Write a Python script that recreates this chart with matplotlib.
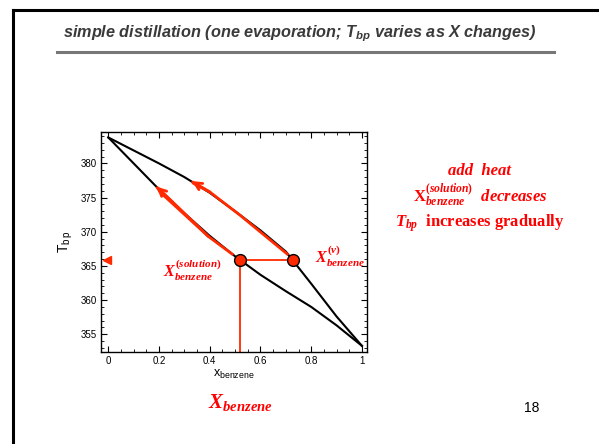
import numpy as np
import matplotlib.pyplot as plt
from matplotlib.lines import Line2D

plt.rcParams['font.family'] = 'Liberation Sans'
plt.rcParams['mathtext.fontset'] = 'custom'
plt.rcParams['mathtext.rm'] = 'Liberation Serif:bold'
plt.rcParams['mathtext.it'] = 'Liberation Serif:bold:italic'
plt.rcParams['mathtext.sf'] = 'Liberation Sans'
plt.rcParams['mathtext.cal'] = 'Liberation Sans:bold:italic'

# liquid (bubble point) curve
x_liq = [0.0, 0.05, 0.1, 0.15, 0.2, 0.3, 0.4, 0.5, 0.6, 0.7, 0.8, 0.9, 1.0]
T_liq = [383.8, 381.9, 380.0, 378.1, 376.2, 372.7, 369.4, 366.4, 363.7, 361.3, 359.0, 356.3, 353.3]

# vapour (dew point) curve
x_vap = [0.0, 0.1, 0.2, 0.3, 0.4, 0.5, 0.6, 0.7, 0.8, 0.9, 1.0]
T_vap = [383.8, 381.9, 380.0, 378.0, 375.7, 373.0, 370.2, 367.1, 362.4, 357.6, 353.3]

# red arrows following the curves
arr_liq_x = [0.493, 0.395, 0.204, 0.191]
arr_liq_T = [366.6, 369.3, 375.8, 376.6]
arr_vap_x = [0.710, 0.52, 0.401, 0.335, 0.33]
arr_vap_T = [366.6, 372.4, 375.8, 377.1, 377.4]

x_sol, x_v, T_now = 0.52, 0.73, 365.8

red = '#ff0000'
red_line = '#ff2a00'

fig = plt.figure(figsize=(5.99, 4.44), dpi=100)

# slide frame + title rule
fig.add_artist(Line2D([13/599, 13/599], [0, 1 - 10/444], color='black', lw=2.2, transform=fig.transFigure))
fig.add_artist(Line2D([13/599, 1], [1 - 10/444, 1 - 10/444], color='black', lw=2.2, transform=fig.transFigure))
fig.add_artist(Line2D([57/599, 554/599], [1 - 52/444, 1 - 52/444], color='#777777', lw=2.2, transform=fig.transFigure))

fig.text(0.5, 1 - 38/444, r'simple distillation (one evaporation; $\mathcal{T}_{\mathcal{bp}}$ varies as X changes)',
         ha='center', va='baseline', fontsize=11.7, fontweight='bold', fontstyle='italic', color='#3a3a3a')

ax = fig.add_axes([100.7/599, 1 - 352/444, 266.3/599, 220/444])
ax.plot(x_liq, T_liq, color='black', lw=1.5)
ax.plot(x_vap, T_vap, color='black', lw=1.5)

ax.plot(arr_liq_x, arr_liq_T, color=red_line, lw=2.0, solid_capstyle='butt')
ax.annotate('', xy=(arr_liq_x[-1], arr_liq_T[-1]), xytext=(arr_liq_x[-3], arr_liq_T[-3]),
            arrowprops=dict(arrowstyle='->', color=red_line, lw=2.0, mutation_scale=13,
                            shrinkA=0, shrinkB=0))
ax.plot(arr_vap_x, arr_vap_T, color=red_line, lw=2.0, solid_capstyle='butt')
ax.annotate('', xy=(arr_vap_x[-1], arr_vap_T[-1]), xytext=(arr_vap_x[-3], arr_vap_T[-3]),
            arrowprops=dict(arrowstyle='->', color=red_line, lw=2.0, mutation_scale=13,
                            shrinkA=0, shrinkB=0))

ax.plot([x_sol, x_v], [T_now, T_now], color=red_line, lw=1.3)
ax.plot([x_sol, x_sol], [352.4, T_now], color=red_line, lw=1.3, clip_on=False)
ax.plot([x_sol, x_v], [T_now, T_now], 'o', ms=8.5, mfc=red_line, mec='black', mew=1.0)
ax.plot([-0.006], [T_now], marker='<', ms=6, color=red_line, clip_on=False)

ax.text(0.216, 363.45, r'$X^{(solution)}_{benzene}$', fontsize=11.5, color=red, va='baseline')
ax.text(0.816, 365.45, r'$X^{(v)}_{benzene}$', fontsize=11.5, color=red, va='baseline')

ax.set_xlim(-0.03, 1.02)
ax.set_ylim(352.4, 384.6)
ax.set_xticks([0, 0.2, 0.4, 0.6, 0.8, 1])
ax.set_xticklabels(['0', '0.2', '0.4', '0.6', '0.8', '1'])
ax.set_xticks(np.arange(0, 1.01, 0.05), minor=True)
ax.set_yticks([355, 360, 365, 370, 375, 380])
ax.set_yticks(np.arange(353, 385, 1), minor=True)
ax.tick_params(which='both', direction='in', top=True, right=True, labelsize=7, pad=3)
ax.tick_params(which='major', length=4, width=0.8)
ax.tick_params(which='minor', length=2, width=0.6)
ax.set_xlabel(r'$\mathsf{x_{benzene}}$', fontsize=9, labelpad=1)
ax.set_ylabel(r'$\mathsf{T_{b\,p}}$', fontsize=10, labelpad=4)
for s in ax.spines.values():
    s.set_linewidth(1.0)

# explanation on the right
fig.text(480/599, 1 - 175/444, 'add  heat', ha='center', va='baseline', fontsize=12,
         family='Liberation Serif', fontweight='bold', fontstyle='italic', color=red)
fig.text(480/599, 1 - 201.7/444, r'$\mathrm{X}^{(solution)}_{benzene}\ \ decreases$', ha='center', va='baseline',
         fontsize=12, color=red)
fig.text(480/599, 1 - 226.7/444, r'$T_{bp}$  increases gradually', ha='center', va='baseline', fontsize=12,
         family='Liberation Serif', fontweight='bold', color=red)

fig.text(208/599, 1 - 408/444, r'$X_{benzene}$', ha='left', va='baseline', fontsize=15, color=red)
fig.text(532/599, 1 - 412/444, '18', ha='center', va='baseline', fontsize=10, color='black')

fig.savefig('out.png', dpi=100)
